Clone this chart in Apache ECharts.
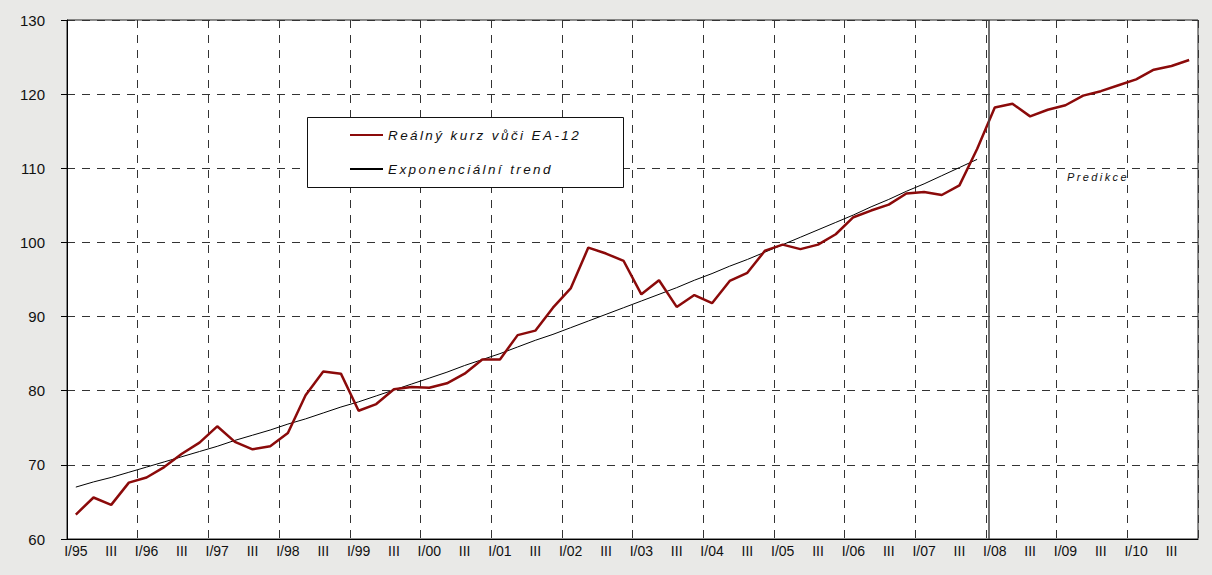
<!DOCTYPE html>
<html>
<head>
<meta charset="utf-8">
<script src="https://cdn.jsdelivr.net/npm/echarts@6/dist/echarts.min.js"></script>
<style>
  html, body { margin: 0; padding: 0; background: #e9e9e7; }
  #chart { width: 1212px; height: 575px; }
  /* Excel-like stretched italic texts */
  #chart svg text[style*="italic"] { letter-spacing: 2.4px; }
</style>
</head>
<body>
<div id="chart"></div>
<script>
// quarters I/95 .. IV/10
const years = ['95', '96', '97', '98', '99', '00', '01', '02', '03', '04', '05', '06', '07', '08', '09', '10'];
const quarters = ['I', 'II', 'III', 'IV'];

// Reálný kurz vůči EA-12 (od I/08 predikce)
const realRate = [
  63.3, 65.6, 64.6, 67.6, 68.3, 69.7, 71.5, 73.0,
  75.2, 73.1, 72.1, 72.5, 74.3, 79.4, 82.6, 82.3,
  77.3, 78.2, 80.2, 80.5, 80.4, 81.0, 82.3, 84.2,
  84.2, 87.5, 88.1, 91.2, 93.8, 99.3, 98.5, 97.5,
  93.0, 94.9, 91.3, 92.9, 91.8, 94.8, 95.9, 98.9,
  99.7, 99.1, 99.7, 101.1, 103.4, 104.3, 105.1, 106.6,
  106.8, 106.4, 107.7, 112.6, 118.2, 118.7, 117.0, 117.9,
  118.5, 119.8, 120.4, 121.2, 122.0, 123.3, 123.8, 124.6
];

// Exponenciální trend (I/95 .. IV/07)
const trend = [
  67.0, 67.7, 68.3, 69.0, 69.7, 70.4, 71.1, 71.8,
  72.5, 73.3, 74.0, 74.7, 75.5, 76.2, 77.0, 77.8,
  78.5, 79.3, 80.1, 80.9, 81.7, 82.5, 83.4, 84.2,
  85.0, 85.9, 86.8, 87.6, 88.5, 89.4, 90.3, 91.2,
  92.1, 93.0, 93.9, 94.9, 95.8, 96.8, 97.7, 98.7,
  99.7, 100.7, 101.7, 102.7, 103.7, 104.8, 105.8, 106.9,
  107.9, 109.0, 110.1, 111.2
];

// hranice predikce (začátek I/08)
const forecastStart = 52.15;

const categories = [];
years.forEach(y => quarters.forEach(q => categories.push(q === 'I' ? 'I/' + y : q)));

const font = 'Arial, "Liberation Sans", sans-serif';
const dash = [8, 7];

const chart = echarts.init(document.getElementById('chart'), null, { renderer: 'svg' });

chart.setOption({
  backgroundColor: '#e9e9e7',
  animation: false,
  textStyle: { fontFamily: font },
  grid: {
    left: 67, right: 14, top: 20, bottom: 36,
    show: true, backgroundColor: '#fff', borderColor: '#222', borderWidth: 1
  },
  legend: {
    data: ['Reálný kurz vůči EA-12', 'Exponenciální trend'],
    orient: 'vertical',
    left: 349, top: 128,
    padding: 0,
    itemWidth: 33, itemHeight: 14, itemGap: 20,
    itemStyle: { opacity: 0 },
    z: 20,
    textStyle: { fontFamily: font, fontStyle: 'italic', fontSize: 13.5, color: '#111' }
  },
  graphic: [
    {
      type: 'rect', z: 10,
      shape: { x: 307.5, y: 117.5, width: 316, height: 70 },
      style: { fill: '#fff', stroke: '#111', lineWidth: 1 }
    },
    {
      type: 'text', z: 10, left: 1067, top: 171,
      style: { text: 'Predikce', font: 'italic 11px ' + font, fill: '#111' }
    }
  ],
  xAxis: [
    {
      type: 'category',
      data: categories,
      boundaryGap: true,
      axisLine: { lineStyle: { color: '#000', width: 1 } },
      axisTick: { interval: 3, length: 6, lineStyle: { color: '#000' } },
      axisLabel: { interval: 1, margin: 5, fontSize: 14, color: '#111' },
      splitLine: { show: true, interval: 3, lineStyle: { type: dash, color: '#333', width: 1 } }
    },
    { type: 'value', min: 0, max: 64, show: false }
  ],
  yAxis: {
    type: 'value',
    min: 60, max: 130, interval: 10,
    axisLine: { show: true, lineStyle: { color: '#000', width: 1 } },
    axisTick: { show: true, length: 6, lineStyle: { color: '#000' } },
    axisLabel: { margin: 22, fontSize: 15, color: '#111' },
    splitLine: { lineStyle: { type: dash, color: '#333', width: 1 } }
  },
  series: [
    {
      name: 'Exponenciální trend',
      type: 'line',
      data: trend,
      symbol: 'none',
      lineStyle: { color: '#000', width: 1 },
      itemStyle: { color: '#000' },
      z: 3
    },
    {
      name: 'Reálný kurz vůči EA-12',
      type: 'line',
      data: realRate,
      symbol: 'none',
      lineStyle: { color: '#8b0a0a', width: 2.5 },
      itemStyle: { color: '#8b0a0a' },
      z: 4
    },
    {
      name: 'hranice',
      type: 'line',
      xAxisIndex: 1,
      data: [],
      markLine: {
        silent: true,
        symbol: 'none',
        label: { show: false },
        lineStyle: { type: 'solid', color: '#444', width: 1.5 },
        data: [{ xAxis: forecastStart }]
      }
    }
  ]
});
</script>
</body>
</html>
